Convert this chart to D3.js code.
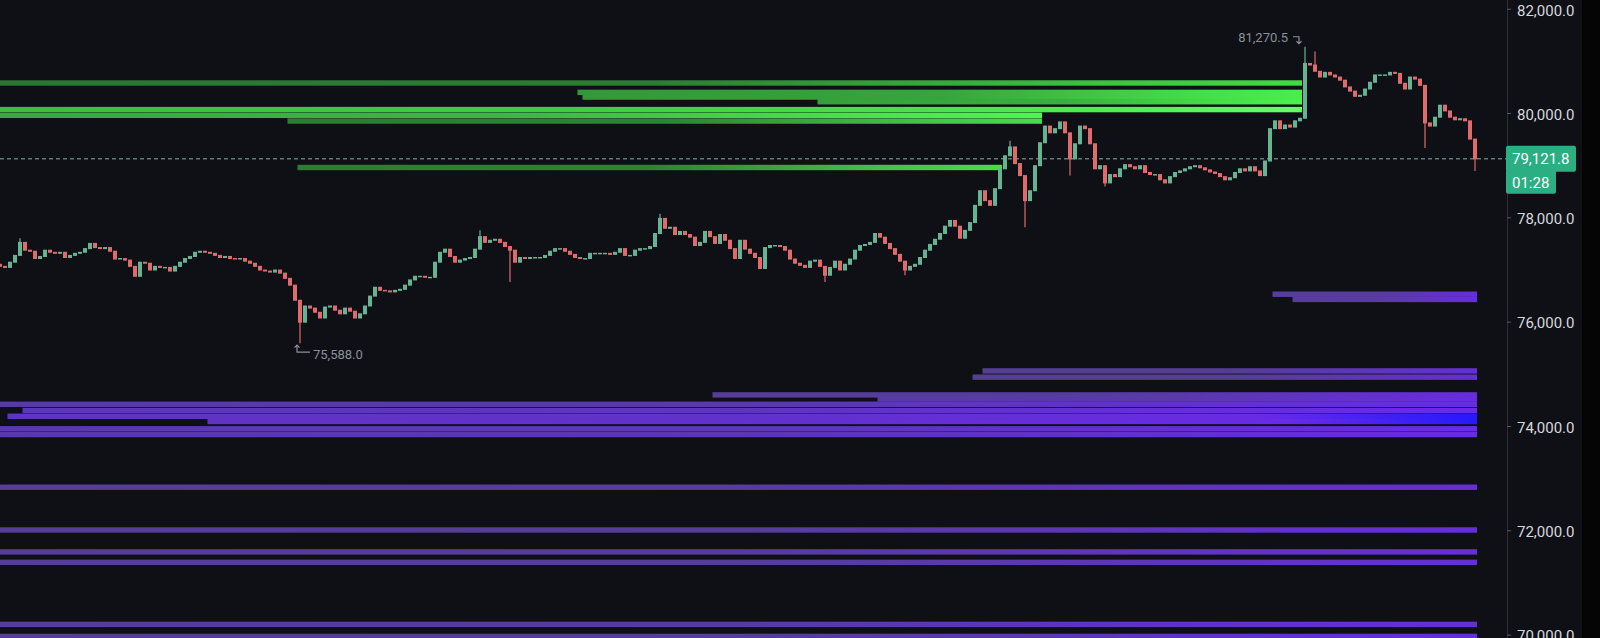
<!DOCTYPE html>
<html><head><meta charset="utf-8">
<script src="https://cdn.jsdelivr.net/npm/d3@7"></script>
<style>
html,body{margin:0;padding:0;background:#060607;overflow:hidden;}
svg{display:block;}
</style></head><body>
<svg id="c" width="1600" height="638"></svg>
<script>
// ---- data ----
const closes = [
77060,77040,77140,77270,77520,77370,77350,77210,77250,77370,
77330,77310,77330,77230,77270,77310,77330,77400,77500,77420,
77400,77420,77350,77200,77210,77180,77060,76870,77140,77120,
76990,77060,77040,77040,76970,77060,77140,77210,77250,77330,
77350,77330,77310,77270,77230,77250,77210,77200,77210,77160,
77120,77060,76990,76970,76950,76990,76930,76830,76700,76410,
75990,76300,76260,76180,76070,76280,76300,76220,76150,76260,
76200,76070,76150,76300,76490,76660,76600,76590,76570,76600,
76620,76700,76800,76870,76870,76850,76850,77140,77330,77390,
77250,77140,77180,77210,77230,77390,77630,77520,77560,77580,
77520,77440,77370,77140,77230,77210,77230,77230,77230,77270,
77350,77400,77400,77350,77290,77230,77210,77210,77310,77310,
77310,77310,77290,77330,77400,77270,77270,77370,77400,77400,
77440,77690,77980,77790,77810,77670,77730,77670,77620,77460,
77520,77730,77630,77500,77670,77560,77400,77210,77560,77390,
77310,77230,77020,77420,77460,77460,77440,77370,77200,77120,
77080,77040,77160,77180,77060,76890,77040,77160,76990,77100,
77200,77370,77460,77480,77520,77690,77620,77500,77400,77290,
77160,76990,77060,77100,77230,77370,77480,77580,77690,77830,
77940,77830,77600,77750,77900,78230,78510,78320,78230,78550,
78930,79180,79350,79030,78800,78320,78510,78990,79430,79750,
79620,79700,79830,79620,79120,79410,79750,79700,79410,78930,
78990,78660,78820,78780,78930,79010,78970,78930,78990,78860,
78820,78820,78720,78660,78780,78860,78890,78930,78970,78990,
78950,78910,78870,78840,78780,78720,78760,78860,78930,78890,
78970,78890,78800,79080,79700,79850,79700,79770,79730,79850,
79900,80950,80920,80800,80690,80780,80730,80690,80630,80500,
80420,80320,80340,80460,80590,80730,80730,80730,80780,80760,
80570,80460,80690,80650,80530,79810,79750,79920,80150,80040,
79920,79870,79890,79850,79500,79121.8
];
const firstOpen = 77100;
// [candle index, extreme price]
const wickHighs = [[4,77600],[96,77750],[132,78070],[202,79470],[261,81270.5],[263,81180]];
const wickLows = [[60,75588],[102,76760],[165,76760],[181,76890],[205,77810],[214,78800],[221,78590],[285,79330],[295,78890]];

// liquidation levels: [price, start candle, end candle, intensity]
const shortLiqLevels = [
  [80570,0,260,0.55],[80390,116,260,0.8],[80300,117,260,0.8],[80210,164,260,0.85],
  [80060,0,260,1.0],[79950,0,208,0.9],[79840,58,208,0.6],[78950,60,200,0.6]
];
const longLiqLevels = [
  [76520,255,295,0.55],[76420,259,295,0.7],
  [75050,197,295,0.45],[74930,195,295,0.45],
  [74590,143,295,0.55],[74510,176,295,0.7],[74410,0,295,0.65],
  [74290,5,295,0.85],[74180,2,295,0.95],[74080,42,295,1.0],
  [73940,0,295,0.8],[73830,0,295,0.75],
  [72820,0,295,0.55],[72000,0,295,0.55],[71580,0,295,0.55],[71380,0,295,0.5],
  [70190,0,295,0.55],[69960,0,295,0.5]
];
const levelBucket = 115;
const yTicks = [70000,72000,74000,76000,78000,80000,82000];
const lastPrice = 79121.8;
const countdown = "01:28";
const highMark = [261, 81270.5];
const lowMark = [60, 75588];

// ---- drawing ----
const W = 1600, H = 638, axisX = 1507;
const svg = d3.select("#c");
const x = d3.scaleLinear().domain([0, closes.length - 1]).range([0, 1475]);
const y = d3.scaleLinear().domain([70000, 82000]).range([634.6, 8.7]);

svg.append("rect").attr("width", 1582).attr("height", H).attr("fill", "#0e1015");
svg.append("rect").attr("x", 1582).attr("width", W - 1582).attr("height", H).attr("fill", "#050506");

const defs = svg.append("defs");
const plot = svg.append("g");

function drawLevels(levels, key, base, bright, hot) {
  const mix = d3.interpolateRgb(base, bright);
  plot.append("g").selectAll("rect").data(levels).join("rect")
    .each(function(d, k) {
      const [p, s, e, v] = d;
      const x0 = x(s) - 2.5, x1 = x(e) + 2;
      const g = defs.append("linearGradient").attr("id", key + k)
        .attr("gradientUnits", "userSpaceOnUse")
        .attr("x1", x0).attr("x2", x1).attr("y1", 0).attr("y2", 0);
      g.append("stop").attr("offset", 0).attr("stop-color", mix(v * v * 0.6));
      g.append("stop").attr("offset", 0.5).attr("stop-color", mix(v * v * 0.72));
      g.append("stop").attr("offset", 0.85).attr("stop-color", mix(0.3 + 0.62 * v));
      g.append("stop").attr("offset", 1).attr("stop-color", v >= 0.95 ? hot : mix(0.5 + 0.5 * v));
      const yt = y(p + levelBucket / 2), yb = y(p - levelBucket / 2);
      d3.select(this).attr("x", x0).attr("width", x1 - x0)
        .attr("y", yt).attr("height", Math.max(1, yb - yt - 0.6))
        .attr("fill", `url(#${key + k})`);
    });
}
drawLevels(shortLiqLevels, "gs", "rgb(34,88,44)", "rgb(78,255,78)", "rgb(100,255,100)");
drawLevels(longLiqLevels, "gl", "rgb(80,66,134)", "rgb(108,40,240)", "rgb(38,24,255)");

// current price dashed line
plot.append("line").attr("x1", 0).attr("x2", axisX).attr("y1", y(lastPrice)).attr("y2", y(lastPrice))
  .attr("stroke", "#84b5a5").attr("stroke-width", 1).attr("stroke-dasharray", "4,3");

// candles
const hiMap = new Map(wickHighs), loMap = new Map(wickLows);
const candles = closes.map((c, i) => {
  const o = i === 0 ? firstOpen : closes[i - 1];
  const h = hiMap.has(i) ? hiMap.get(i) : Math.max(o, c);
  const l = loMap.has(i) ? loMap.get(i) : Math.min(o, c);
  return {i, o, c, h, l};
});
const up = "#66b394", dn = "#e06b6c";
const cg = plot.append("g");
cg.selectAll("line").data(candles).join("line")
  .attr("x1", d => x(d.i)).attr("x2", d => x(d.i))
  .attr("y1", d => y(d.h)).attr("y2", d => y(d.l))
  .attr("stroke", d => d.c >= d.o ? up : dn).attr("stroke-width", 1.2);
cg.selectAll("rect").data(candles).join("rect")
  .attr("x", d => x(d.i) - 2).attr("width", 4)
  .attr("y", d => y(Math.max(d.o, d.c)) - 0.5)
  .attr("height", d => Math.max(1.5, Math.abs(y(d.o) - y(d.c)) + 1))
  .attr("fill", d => d.c >= d.o ? up : dn);

// high / low markers
const fmt = d3.format(",.1f");
const mk = "#8a8f99";
{
  const hx = x(highMark[0]), hy = y(highMark[1]);
  svg.append("text").attr("x", hx - 17).attr("y", hy - 5).attr("text-anchor", "end")
    .attr("font-family", "Roboto, sans-serif").attr("font-size", 13).attr("fill", mk)
    .text(fmt(highMark[1]));
  svg.append("path").attr("d", `M${hx-12},${hy-10}H${hx-6}V${hy-3}M${hx-8.5},${hy-5.5}L${hx-6},${hy-3}L${hx-3.5},${hy-5.5}`)
    .attr("stroke", mk).attr("fill", "none").attr("stroke-width", 1.2);
  const lx = x(lowMark[0]), ly = y(lowMark[1]);
  svg.append("text").attr("x", lx + 13).attr("y", ly + 16).attr("text-anchor", "start")
    .attr("font-family", "Roboto, sans-serif").attr("font-size", 13).attr("fill", mk)
    .text(fmt(lowMark[1]));
  svg.append("path").attr("d", `M${lx+10},${ly+9}H${lx-3}V${ly+2}M${lx-5.5},${ly+4.5}L${lx-3},${ly+2}L${lx-0.5},${ly+4.5}`)
    .attr("stroke", mk).attr("fill", "none").attr("stroke-width", 1.2);
}

// y axis
svg.append("line").attr("x1", axisX + 0.5).attr("x2", axisX + 0.5).attr("y1", 0).attr("y2", H)
  .attr("stroke", "#2a2d35");
const ax = svg.append("g").attr("transform", `translate(${axisX},0)`)
  .call(d3.axisRight(y).tickValues(yTicks).tickFormat(fmt).tickSize(4).tickPadding(6));
ax.select(".domain").remove();
ax.selectAll(".tick line").attr("stroke", "#555a64");
ax.selectAll(".tick text").attr("fill", "#d6d8de").attr("font-size", 15)
  .attr("font-family", "Roboto, sans-serif").attr("dy", "0.42em");

// current price label
{
  const py = y(lastPrice);
  const lab = svg.append("g");
  lab.append("rect").attr("x", axisX - 1).attr("y", py - 13).attr("width", 70).attr("height", 26)
    .attr("rx", 2).attr("fill", "#2bae82");
  lab.append("rect").attr("x", axisX - 1).attr("y", py + 11).attr("width", 50).attr("height", 24)
    .attr("rx", 2).attr("fill", "#2bae82");
  lab.append("text").attr("x", axisX + 5).attr("y", py + 5.5).attr("fill", "#ffffff")
    .attr("font-family", "Roboto, sans-serif").attr("font-size", 15).text(fmt(lastPrice));
  lab.append("text").attr("x", axisX + 5).attr("y", py + 29).attr("fill", "#ffffff")
    .attr("font-family", "Roboto, sans-serif").attr("font-size", 15).text(countdown);
}
</script>
</body></html>
